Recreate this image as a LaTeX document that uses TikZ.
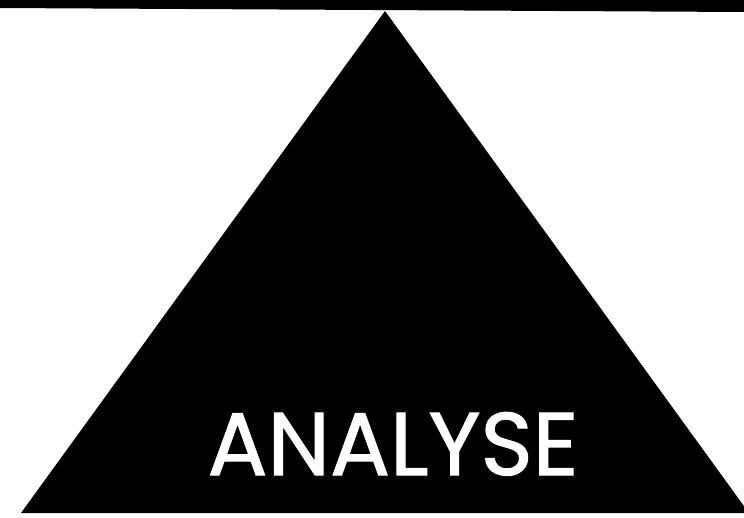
\documentclass[tikz,border=0pt]{standalone}
\usepackage{fontspec}
\setmainfont{Poppins}
\newfontfamily\titlefont{Poppins}[FakeBold=1.2]
\usepackage{tikz}

\tikzset{
  darkshape/.style={fill=black, draw=none},
  titletext/.style={text=white, font=\titlefont\fontsize{89}{89}\selectfont, inner sep=0pt, anchor=base}
}

\begin{document}
\begin{tikzpicture}[x=1pt, y=-1pt]
  \useasboundingbox (0,0) rectangle (744,517);
  % top band
  \fill[darkshape] (0,0) -- (744,0) -- (744,12) -- (0,8) -- cycle;
  % big triangle
  \begin{scope}
    \clip (0,0) rectangle (744,517);
    \fill[darkshape] (385,11) -- (749,513) -- (21,513) -- cycle;
  \end{scope}
  \node[titletext] (title) at (393,475) {ANALYSE};
\end{tikzpicture}
\end{document}
